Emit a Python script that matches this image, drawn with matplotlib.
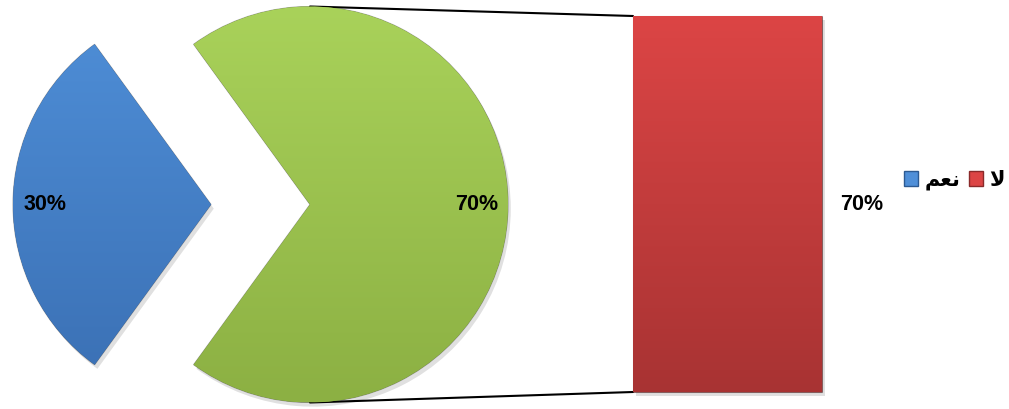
import matplotlib
matplotlib.use("Agg")
import matplotlib.pyplot as plt
import matplotlib.patheffects as pe
import numpy as np
from matplotlib.colors import LinearSegmentedColormap
from matplotlib.patches import ConnectionPatch, Patch

# Arabic labels in presentation forms, visual (left-to-right) order:
# "نعم" and "لا"
YES = "\ufee2\ufecc\ufee7"
NO = "\ufefb"

PIE_VALUES = [30, 70]      # yes, rest
BAR_VALUES = [70]          # no
LEGEND_LABELS = [YES, NO]

BLUE = ("#3a6fb3", "#4f8fd8")     # bottom, top
GREEN = ("#8cb043", "#a9d25a")
RED = ("#a83333", "#dc4545")

FONT = ["Liberation Sans", "DejaVu Sans"]
W, H = 1009, 409
PIE_R = 198.0              # pie radius in pixels
PIE_CX, PIE_CY = 310.0, 204.5
SHADOW = [pe.SimplePatchShadow(offset=(2, -3), shadow_rgbFace="#000000", alpha=0.12),
          pe.Normal()]


def gradient_fill(ax, patch, colors, extent):
    cmap = LinearSegmentedColormap.from_list("g", list(colors))
    grad = np.linspace(0, 1, 256).reshape(-1, 1)
    img = ax.imshow(grad, cmap=cmap, extent=extent, origin="lower",
                    aspect="auto", interpolation="bicubic", zorder=2)
    img.set_clip_path(patch)
    return img


fig = plt.figure(figsize=(W / 100, H / 100), dpi=100)

# --- pie ----------------------------------------------------------------------
ax_pie = fig.add_axes([0, 0, 1, 1])
wedges, texts, autotexts = ax_pie.pie(
    PIE_VALUES, colors=[BLUE[0], GREEN[0]], startangle=126, counterclock=True,
    explode=[0.5, 0], radius=1, autopct="%d%%", pctdistance=0.84,
    wedgeprops=dict(linewidth=0.8, edgecolor="#00000050"),
    textprops=dict(family=FONT, weight="bold", size=15.5, color="black"),
)
for w, c in zip(wedges, [BLUE, GREEN]):
    w.set_zorder(1)
    w.set_path_effects(SHADOW)
    gradient_fill(ax_pie, w, c, [-1.6, 1.1, -1.0, 1.0])
for t in autotexts:
    t.set_zorder(5)

ax_pie.set_xlim(-PIE_CX / PIE_R, (W - PIE_CX) / PIE_R)
ax_pie.set_ylim(-PIE_CY / PIE_R, (H - PIE_CY) / PIE_R)
ax_pie.set_aspect("auto")
ax_pie.axis("off")

# --- bar ----------------------------------------------------------------------
bx0, bx1, by0, by1 = 633, 822, 16, 392
ax_bar = fig.add_axes([bx0 / W, (H - by1) / H, (bx1 - bx0) / W, (by1 - by0) / H])
bars = ax_bar.bar([0], BAR_VALUES, width=1, color=RED[0],
                  linewidth=0.8, edgecolor="#00000050", zorder=1)
for b in bars:
    b.set_path_effects(SHADOW)
    b.set_clip_on(False)
    gradient_fill(ax_bar, b, RED, [-0.5, 0.5, 0, sum(BAR_VALUES)])
ax_bar.set_xlim(-0.5, 0.5)
ax_bar.set_ylim(0, sum(BAR_VALUES))
ax_bar.axis("off")
for v in BAR_VALUES:
    ax_bar.annotate(f"{v}%", xy=(0.5, v / 2), xytext=(18, 0),
                    textcoords="offset pixels", ha="left", va="center",
                    family=FONT, weight="bold", size=15.5, annotation_clip=False)

# --- connector lines from the pie to the bar ----------------------------------
for ya, yb in [(1, sum(BAR_VALUES)), (-1, 0)]:
    con = ConnectionPatch(xyA=(0, ya), coordsA=ax_pie.transData,
                          xyB=(-0.5, yb), coordsB=ax_bar.transData,
                          color="black", linewidth=1.5, zorder=0)
    fig.add_artist(con)

# --- legend -------------------------------------------------------------------
handles = [Patch(facecolor=BLUE[1], edgecolor="#2c5a92"),
           Patch(facecolor=RED[1], edgecolor="#8a2a2a")]
fig.legend(handles, LEGEND_LABELS, ncol=2, loc="center right",
           bbox_to_anchor=(1005 / W, 1 - 180 / H), frameon=False,
           prop=dict(family=["DejaVu Sans"], weight="bold", size=15),
           handlelength=0.7, handleheight=0.7, handletextpad=0.3,
           columnspacing=0.4, borderpad=0, borderaxespad=0)

fig.savefig("out.png", dpi=100)
